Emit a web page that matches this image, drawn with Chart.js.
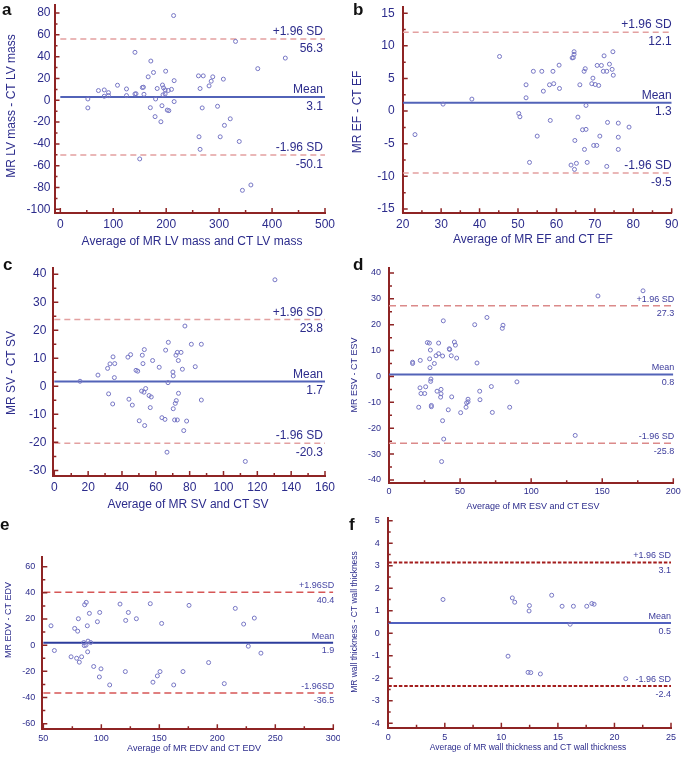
<!DOCTYPE html>
<html>
<head>
<meta charset="utf-8">
<script src="https://cdn.jsdelivr.net/npm/chart.js@4.4.0/dist/chart.umd.min.js"></script>
<style>
  html, body { margin: 0; padding: 0; background: #fff; }
  #wrap { position: relative; width: 685px; height: 757px; overflow: hidden; }
  #wrap canvas { position: absolute; left: 0; top: 0; }
  #pe { clip-path: inset(0 345px 0 0); }
</style>
</head>
<body>
<div id="wrap">
  <canvas id="pa" width="685" height="757"></canvas>
  <canvas id="pb" width="685" height="757"></canvas>
  <canvas id="pc" width="685" height="757"></canvas>
  <canvas id="pd" width="685" height="757"></canvas>
  <canvas id="pe" width="685" height="757"></canvas>
  <canvas id="pf" width="685" height="757"></canvas>
</div>
<script>
// a: LV mass
const massAvg  = [214, 331, 425, 373, 141, 171, 176, 199, 166, 215, 261, 270, 288, 308, 285, 281, 264, 108, 72, 83,
                  91, 83, 91, 125, 125, 141, 143, 155, 158, 183, 193, 195, 198, 194, 204, 210, 198, 180, 52, 52,
                  170, 192, 202, 205, 215, 179, 190, 268, 297, 321, 310, 262, 302, 264, 338, 150, 344, 360, 157];
const massDiff = [77.7, 54, 38.7, 29, 44, 36, 25.5, 26.7, 21.5, 18, 22.4, 22.4, 21.5, 19.4, 17.5, 13.2, 10.8, 13.8, 8.9, 9.5,
                  7, 3.7, 4.3, 10.4, 4.3, 5.8, 6, 11.7, 5.5, 10.8, 14, 11.4, 9.5, 5, 9, 10, 5.8, 1.2, 1.2, -7,
                  -6.8, -5, -9, -9.5, -1.2, -15, -19.7, -7, -5.5, -17, -23, -33.5, -33.5, -45, -37.8, -53.8, -82.6, -77.7, 12];
const massLines  = [3.1, 56.3, -50.1];
const massXTicks = [0, 100, 200, 300, 400, 500];
const massYTicks = [-100, -80, -60, -40, -20, 0, 20, 40, 60, 80];

// b: EF
const efAvg  = [23.2, 30.5, 38, 45.2, 50.2, 50.5, 52.1, 52.1, 54, 56.2, 56.6, 59.1, 58.2, 59.3, 60.7, 60.8, 58.4, 55, 53, 64.1,
                64.4, 64.6, 64.6, 66.1, 67.2, 67.5, 67.7, 65.6, 66.8, 67.7, 64.8, 67.3, 63.8, 64.7, 65.2, 68, 69.7, 70.5, 71.3, 73.1,
                73.3, 69.5, 69.2, 70.1, 71, 70.6, 71.7, 72.4, 72.2, 73.1, 73.8, 74.7, 74.5, 74.8, 76.1, 76.1, 76.1, 78.9];
const efDiff = [-3.6, 1.07, 1.84, 8.37, -0.36, -0.87, 4.03, 2.04, 6.1, 6.1, 3.06, 6.1, 4.03, 4.2, 7.04, 3.47, -1.43, -3.83, -7.86, 8.16,
                8.2, 9.1, 8.7, 4.03, 6.1, 6.5, 0.87, -0.92, -2.86, -2.8, -4.5, -5.87, -8.27, -8.93, -8, -7.86, -5.26, -5.26, -3.83, -8.47,
                -1.73, 5.05, 4.2, 4.08, 3.93, 7, 7, 8.47, 6.1, 6.1, 7.2, 9.1, 6.4, 5.5, -1.84, -4, -5.87, -2.45];
const efLines  = [1.3, 12.1, -9.5];
const efXTicks = [20, 30, 40, 50, 60, 70, 80, 90];
const efYTicks = [-15, -10, -5, 0, 5, 10, 15];

// c: SV
const svAvg  = [130.4, 77.2, 67.4, 65.8, 81, 86.9, 53.2, 52, 45.1, 43.5, 34.7, 32.9, 35.7, 31.5, 58.1, 52.4, 71.9, 72.7, 74.9, 73.3,
                62, 83.3, 75.7, 70.1, 70.3, 48.3, 49.3, 25.8, 35.5, 15.2, 67.2, 32.1, 34.5, 44.1, 46.1, 51.6, 53, 54, 56, 57.3,
                56.7, 73.4, 72.1, 71.5, 70.3, 86.9, 50.2, 53.4, 63.6, 65.4, 71.1, 72.7, 78.2, 76.5, 66.6, 112.9];
const svDiff = [38, 21.5, 15.7, 12.9, 15, 15, 13.1, 11.1, 11.3, 10.4, 10.5, 8, 8.1, 6.4, 9.2, 8.1, 11.1, 12.1, 12.1, 9.2,
                6.8, 7, 6.1, 5.1, 3.7, 5.7, 5.4, 4, 3.1, 1.8, 1.3, -2.7, -6.3, -4.6, -6.7, -1.7, -2.1, -0.8, -3.3, -3.8,
                -7.6, -2.5, -5.1, -6.1, -8, -4.9, -12.3, -14, -11.2, -11.8, -12, -12, -12.4, -15.8, -23.5, -26.8];
const svLines  = [1.7, 23.8, -20.3];
const svXTicks = [0, 20, 40, 60, 80, 100, 120, 140, 160];
const svYTicks = [-30, -20, -10, 0, 10, 20, 30, 40];

// d: ESV
const esvAvg  = [178.7, 147, 68.9, 38.2, 60.3, 80.2, 79.7, 27, 28.4, 34.9, 46, 46.7, 29.1, 42.4, 42.7, 34.9, 33.1, 37.7, 43.8, 47.6,
                 28.6, 22, 16.6, 16.6, 31.9, 61.9, 28.8, 29.5, 29.3, 21.8, 25.8, 22.5, 25.1, 33.8, 36.6, 36.6, 36.3, 44.1, 20.9, 29.8,
                 29.8, 41.7, 50.4, 54.6, 55.6, 55.6, 54.2, 63.8, 64, 72, 72.7, 84.9, 90, 37.7, 38.5, 37, 131];
const esvDiff = [33.1, 31.1, 22.8, 21.5, 20, 19.8, 18.6, 13.1, 12.9, 12.9, 13.3, 12.1, 10.2, 10.7, 10.4, 8.8, 8, 7.9, 8, 7.1,
                 6.8, 6.2, 5.5, 5, 5, 5.2, 3.4, -1, -1.9, -4.4, -4, -6.6, -6.6, -5.7, -5, -6.7, -8, -7.9, -11.9, -11.2,
                 -11.7, -12.9, -14, -10.2, -8.8, -9.8, -11.9, -5.7, -9, -3.9, -13.9, -11.9, -2.1, -17.1, -24.2, -32.9, -22.8];
const esvLines  = [0.8, 27.3, -25.8];
const esvXTicks = [0, 50, 100, 150, 200];
const esvYTicks = [-40, -30, -20, -10, 0, 10, 20, 30, 40];

// e: EDV
const edvAvg  = [56.6, 59.5, 73.9, 77, 78.7, 80.2, 79.6, 81, 83, 84.8, 85.3, 85.6, 87, 87.9, 88.2, 88.5, 86.8, 89.7, 90.8, 93.4,
                 96.6, 98.6, 98.3, 99.7, 107.2, 116.1, 121, 120.7, 123.3, 130.2, 142.2, 144.5, 148.3, 150.6, 152, 162.4, 170.4, 175.6, 192.5, 206,
                 215.5, 222.7, 226.7, 231.9, 237.6];
const edvDiff = [14.8, -4.1, -8.9, 12.8, -10, 20.2, 10.7, -13, -8.9, 2, -0.3, 30.9, 32.7, 14.8, -5.1, 3.1, 0, 24.3, 2, -16.3,
                 17.9, 25, -24.3, -18.1, -30.4, 31.4, 18.9, -20.2, 25, 20.2, 31.7, -28.3, -23.5, -20.2, 16.6, -30.4, -20.2, 30.4, -13.3, -29.4,
                 28.1, 16.1, -0.8, 20.7, -6.1];
const edvLines  = [1.9, 40.4, -36.5];
const edvXTicks = [50, 100, 150, 200, 250, 300];
const edvYTicks = [-60, -40, -20, 0, 20, 40, 60];

// f: wall thickness
const wallAvg  = [4.84, 10.97, 11.18, 12.48, 12.45, 14.45, 15.37, 16.37, 17.55, 18, 18.2, 16.08, 10.59, 12.36, 12.6, 13.45, 21];
const wallDiff = [1.5, 1.57, 1.38, 1.23, 0.99, 1.69, 1.2, 1.2, 1.2, 1.32, 1.29, 0.4, -1.02, -1.74, -1.75, -1.81, -2.02];
const wallLines  = [0.45, 3.15, -2.35];
const wallXTicks = [0, 5, 10, 15, 20, 25];
const wallYTicks = [-4, -3, -2, -1, 0, 1, 2, 3, 4, 5];

const W = 685, H = 757, YW = 40, XH = 20;
const FONT = '"Liberation Sans", Arial, sans-serif';
const AXIS = '#8e2424';
const TXT = '#2c2c8c';

const panels = [
  { id: 'pa', letter: 'a', lpos: [2, 15], area: [54.5, 5, 325, 213], xr: [-11, 500], yr: [-103.4, 87.4],
    x: massAvg, y: massDiff, lines: massLines, xt: massXTicks, yt: massYTicks, from: 0,
    tick: 12, lab: 12, title: 12, xPad: 4, yPad: 4, labDx: -2, labColor: TXT,
    xTitle: 'Average of MR LV mass and CT LV mass', yTitle: 'MR LV mass - CT LV mass',
    xtPos: [192, 242], ytPos: [12, 106],
    mean: '#5263b8', lim: '#e3a0a0', limW: 1.5, dash: [6, 4], sd: ' SD' },
  { id: 'pb', letter: 'b', lpos: [353, 15], area: [402.7, 6.7, 671.7, 213.3], xr: [20, 90], yr: [-15.66, 16],
    x: efAvg, y: efDiff, lines: efLines, xt: efXTicks, yt: efYTicks, from: 20,
    tick: 12, lab: 12, title: 12, xPad: 4, yPad: 8, labDx: 0, labColor: TXT,
    xTitle: 'Average of MR EF and CT EF', yTitle: 'MR EF - CT EF',
    xtPos: [533, 240], ytPos: [358, 112],
    mean: '#5263b8', lim: '#e3a0a0', limW: 1.5, dash: [6, 4], sd: ' SD' },
  { id: 'pc', letter: 'c', lpos: [3, 270], area: [53.3, 268.3, 325, 476], xr: [-0.6, 160], yr: [-32, 42.1],
    x: svAvg, y: svDiff, lines: svLines, xt: svXTicks, yt: svYTicks, from: 0,
    tick: 12, lab: 12, title: 12, xPad: 4, yPad: 7, labDx: -2, labColor: TXT,
    xTitle: 'Average of MR SV and CT SV', yTitle: 'MR SV - CT SV',
    xtPos: [188, 505], ytPos: [12, 373],
    mean: '#5263b8', lim: '#e3a0a0', limW: 1.5, dash: [6, 4], sd: ' SD' },
  { id: 'pd', letter: 'd', lpos: [353, 270], area: [389, 268.3, 673.3, 483.3], xr: [0, 200], yr: [-41.3, 41.8],
    x: esvAvg, y: esvDiff, lines: esvLines, xt: esvXTicks, yt: esvYTicks, from: 0,
    tick: 9, lab: 9, title: 9, xPad: 3, yPad: 8, labDx: 1, labColor: '#3c3c9c',
    xTitle: 'Average of MR ESV and CT ESV', yTitle: 'MR ESV - CT ESV',
    xtPos: [533, 507], ytPos: [355, 375],
    mean: '#5263b8', lim: '#db8a8a', limW: 1.5, dash: [7, 4], sd: ' SD' },
  { id: 'pe', letter: 'e', lpos: [0, 530], area: [42.3, 556.7, 333.3, 729.3], xr: [49.1, 300], yr: [-64.3, 67.6],
    x: edvAvg, y: edvDiff, lines: edvLines, xt: edvXTicks, yt: edvYTicks, from: 50,
    tick: 9, lab: 9, title: 9, xPad: 4, yPad: 7, labDx: 1, labColor: '#4646a4',
    xTitle: 'Average of MR EDV and CT EDV', yTitle: 'MR EDV - CT EDV',
    xtPos: [194, 749], ytPos: [8.5, 620],
    mean: '#2c3c9c', lim: '#d65656', limW: 1.5, dash: [7, 4], sd: 'SD' },
  { id: 'pf', letter: 'f', lpos: [349, 530], area: [387.7, 518.3, 671, 727.7], xr: [-0.05, 25], yr: [-4.2, 5.11],
    x: wallAvg, y: wallDiff, lines: wallLines, xt: wallXTicks, yt: wallYTicks, from: 0,
    tick: 9, lab: 9, title: 8.5, xPad: 4, yPad: 8, labDx: 0, labColor: '#3c3c9c',
    xTitle: 'Average of MR wall thickness and CT wall thickness', yTitle: 'MR wall thickness - CT wall thickness',
    xtPos: [528, 748], ytPos: [355, 622],
    mean: '#5060bf', lim: '#a31d1d', limW: 2, dash: [3.5, 1.8], sd: ' SD' },
];

function mids(arr) {
  const out = [];
  for (let i = 1; i < arr.length; i++) out.push((arr[i - 1] + arr[i]) / 2);
  return out;
}

function decor(p) {
  return {
    id: 'decor_' + p.letter,
    afterDraw(chart) {
      const { ctx, chartArea: a, scales: { x, y } } = chart;
      ctx.save();
      // inward tick marks, major and minor
      ctx.strokeStyle = AXIS;
      ctx.lineWidth = 1.5;
      ctx.beginPath();
      const xTick = (v, len) => { const px = x.getPixelForValue(v); ctx.moveTo(px, a.bottom); ctx.lineTo(px, a.bottom - len); };
      const yTick = (v, len) => { const py = y.getPixelForValue(v); ctx.moveTo(a.left, py); ctx.lineTo(a.left + len, py); };
      p.xt.forEach(v => xTick(v, 5));
      mids(p.xt).forEach(v => xTick(v, 3));
      p.yt.forEach(v => yTick(v, 5));
      mids(p.yt).forEach(v => yTick(v, 3));
      ctx.stroke();

      // mean / limit labels
      ctx.fillStyle = p.labColor;
      ctx.font = p.lab + 'px ' + FONT;
      ctx.textAlign = 'right';
      ctx.textBaseline = 'alphabetic';
      const names = ['Mean', '+1.96' + p.sd, '-1.96' + p.sd];
      p.lines.forEach((v, i) => {
        const py = y.getPixelForValue(v);
        ctx.fillText(names[i], a.right + p.labDx, py - 4);
        ctx.fillText(v.toFixed(1), a.right + p.labDx, py + 4 + p.lab * 0.72);
      });

      // axis titles
      ctx.fillStyle = TXT;
      ctx.font = p.title + 'px ' + FONT;
      ctx.textAlign = 'center';
      ctx.textBaseline = 'middle';
      ctx.fillText(p.xTitle, p.xtPos[0], p.xtPos[1]);
      ctx.save();
      ctx.translate(p.ytPos[0], p.ytPos[1]);
      ctx.rotate(-Math.PI / 2);
      ctx.fillText(p.yTitle, 0, 0);
      ctx.restore();

      // panel letter
      ctx.fillStyle = '#111';
      ctx.font = 'bold 17px ' + FONT;
      ctx.textAlign = 'left';
      ctx.textBaseline = 'alphabetic';
      ctx.fillText(p.letter, p.lpos[0], p.lpos[1]);
      ctx.restore();
    }
  };
}

function flatLine(v, p, color, width, dash) {
  return {
    type: 'line',
    data: [{ x: p.from, y: v }, { x: p.xr[1], y: v }],
    borderColor: color, borderWidth: width, borderDash: dash,
    pointRadius: 0, fill: false
  };
}

function makePanel(p) {
  const zeroPad = s => { s.paddingLeft = 0; s.paddingRight = 0; s.paddingTop = 0; s.paddingBottom = 0; };
  new Chart(document.getElementById(p.id), {
    type: 'scatter',
    data: {
      datasets: [
        { data: p.x.map((v, i) => ({ x: v, y: p.y[i] })), pointRadius: 2, pointBorderWidth: 1,
          borderColor: '#7676c4', backgroundColor: 'rgba(0,0,0,0)' },
        flatLine(p.lines[0], p, p.mean, 2, []),
        flatLine(p.lines[1], p, p.lim, p.limW, p.dash),
        flatLine(p.lines[2], p, p.lim, p.limW, p.dash),
      ]
    },
    options: {
      responsive: false,
      animation: false,
      events: [],
      layout: { padding: { left: p.area[0] - YW, top: p.area[1], right: W - p.area[2], bottom: H - p.area[3] - XH } },
      plugins: { legend: { display: false }, tooltip: { enabled: false } },
      scales: {
        x: {
          type: 'linear', min: p.xr[0], max: p.xr[1],
          afterBuildTicks: s => { s.ticks = p.xt.map(v => ({ value: v })); },
          afterFit: s => { s.height = XH; zeroPad(s); },
          grid: { display: false, drawTicks: false },
          border: { display: true, color: AXIS, width: 2 },
          ticks: { color: TXT, font: { family: FONT, size: p.tick }, padding: p.xPad, maxRotation: 0, autoSkip: false }
        },
        y: {
          type: 'linear', min: p.yr[0], max: p.yr[1],
          afterBuildTicks: s => { s.ticks = p.yt.map(v => ({ value: v })); },
          afterFit: s => { s.width = YW; zeroPad(s); },
          grid: { display: false, drawTicks: false },
          border: { display: true, color: AXIS, width: 2 },
          ticks: { color: TXT, font: { family: FONT, size: p.tick }, padding: p.yPad, autoSkip: false }
        }
      }
    },
    plugins: [decor(p)]
  });
}

panels.forEach(makePanel);
</script>
</body>
</html>
